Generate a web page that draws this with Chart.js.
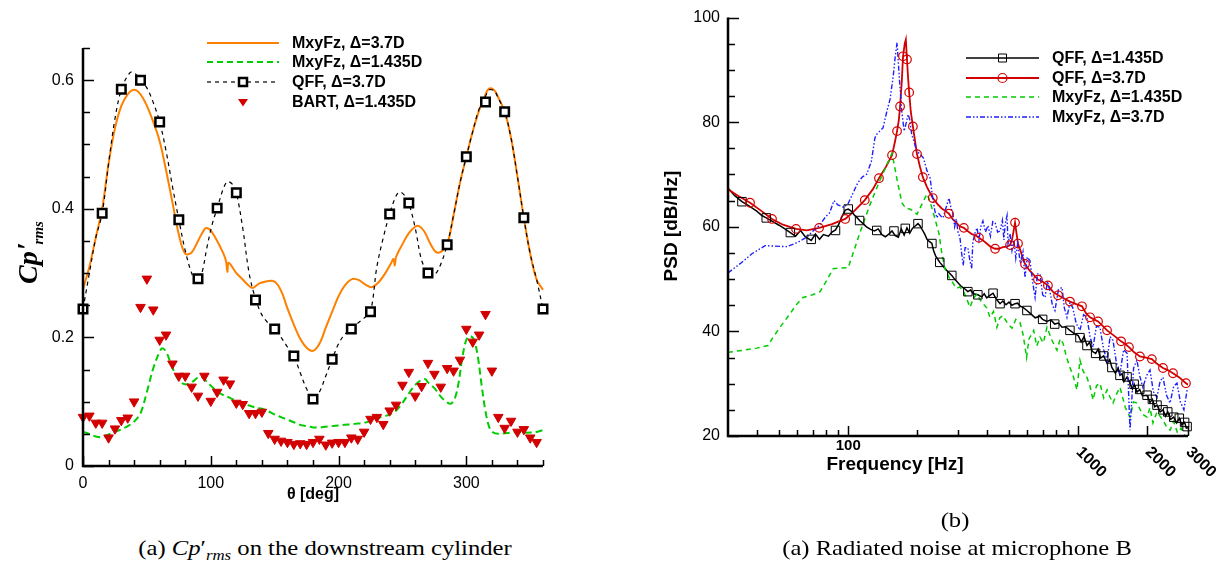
<!DOCTYPE html>
<html>
<head>
<meta charset="utf-8">
<script src="https://cdn.jsdelivr.net/npm/chart.js"></script>
<style>
  body { margin: 0; background: #fff; width: 1225px; height: 567px; overflow: hidden; position: relative; }
  #leftBox { position: absolute; left: 0; top: 0; width: 612px; height: 520px; }
  #rightBox { position: absolute; left: 612px; top: 0; width: 613px; height: 520px; }
  .cap { position: absolute; font-family: "Liberation Serif", "Times New Roman", serif; font-size: 22px;
         white-space: nowrap; color: #000; transform-origin: 50% 50%; }
</style>
</head>
<body>
<div id="leftBox"><canvas id="cpChart" width="612" height="520"></canvas></div>
<div id="rightBox"><canvas id="psdChart" width="613" height="520"></canvas></div>
<div class="cap" id="capA" style="left:325px; top:535px; transform: translateX(-50%) scaleX(1.12);">(a) <i>Cp</i>′<sub style="font-size:15px"><i>rms</i></sub> on the downstream cylinder</div>
<div class="cap" id="capB" style="left:955px; top:507px; transform: translateX(-50%) scaleX(1.12);">(b)</div>
<div class="cap" id="capC" style="left:957px; top:535px; transform: translateX(-50%) scaleX(1.12);">(a) Radiated noise at microphone B</div>
<script>
// ---------- left panel: Cp'rms vs theta ----------
var thetaTicks = [0, 100, 200, 300];
var thetaTickLabels = ['0', '100', '200', '300'];
var cpTicks = [0, 0.2, 0.4, 0.6];
var cpTickLabels = ['0', '0.2', '0.4', '0.6'];

var mxy37Theta = [0,5,10,15,20,25,30,35,40,45,50,55,60,65,70,75,80,85,90,95,97,100,105,110,112,113,114,120,125,130,133,138,143,148,152,156,160,165,170,175,180,185,190,195,200,205,211,216,221,226,231,236,241,243,244,245,250,255,260,263,267,272,276,280,285,290,295,300,305,310,315,318,322,325,330,335,340,345,350,355,360];
var mxy37Cp = [0.275,0.31,0.355,0.40,0.47,0.525,0.56,0.578,0.585,0.578,0.56,0.535,0.505,0.46,0.41,0.36,0.33,0.332,0.35,0.368,0.37,0.366,0.35,0.33,0.318,0.302,0.316,0.3,0.29,0.28,0.277,0.284,0.287,0.288,0.283,0.268,0.245,0.22,0.198,0.184,0.179,0.19,0.215,0.24,0.264,0.281,0.291,0.289,0.282,0.278,0.285,0.298,0.315,0.322,0.312,0.325,0.345,0.362,0.372,0.373,0.365,0.345,0.333,0.333,0.345,0.39,0.44,0.481,0.52,0.553,0.578,0.587,0.584,0.573,0.551,0.51,0.45,0.386,0.33,0.29,0.274];

var mxy1435Theta = [0,5,10,15,20,25,30,35,40,45,50,55,60,62,65,70,75,80,85,90,92,95,100,105,110,115,120,125,130,135,140,145,150,155,160,165,170,175,180,185,190,195,200,205,210,215,220,225,230,235,240,245,250,255,260,265,268,270,275,280,285,288,291,294,297,300,303,306,309,312,315,318,321,325,330,335,340,345,350,355,360];
var mxy1435Cp = [0.053,0.05,0.046,0.045,0.049,0.053,0.057,0.062,0.069,0.082,0.115,0.152,0.178,0.183,0.178,0.153,0.133,0.127,0.13,0.138,0.139,0.135,0.125,0.116,0.11,0.106,0.101,0.097,0.094,0.091,0.089,0.085,0.08,0.076,0.072,0.068,0.064,0.062,0.06,0.06,0.061,0.062,0.063,0.064,0.065,0.066,0.067,0.07,0.074,0.077,0.08,0.086,0.098,0.113,0.126,0.134,0.135,0.13,0.121,0.108,0.099,0.097,0.105,0.13,0.17,0.196,0.202,0.196,0.17,0.125,0.085,0.06,0.052,0.05,0.051,0.052,0.053,0.052,0.052,0.053,0.056];

var qffLineTheta = [0,5,10,15,20,25,30,35,38,42,45,50,55,60,65,70,75,80,85,89,93,97,101,105,110,113,117,120,125,130,135,140,145,150,155,160,165,170,175,180,185,190,195,200,205,210,215,220,225,230,235,240,245,248,252,255,260,265,270,273,278,285,290,295,300,305,310,315,318,322,325,330,335,340,345,350,355,360];
var qffLineCp = [0.244,0.30,0.355,0.393,0.47,0.54,0.586,0.607,0.613,0.608,0.600,0.588,0.565,0.535,0.49,0.435,0.383,0.335,0.3,0.286,0.3,0.34,0.375,0.401,0.432,0.442,0.438,0.425,0.37,0.30,0.26,0.235,0.222,0.213,0.2,0.185,0.171,0.145,0.12,0.104,0.115,0.14,0.166,0.19,0.205,0.213,0.222,0.23,0.24,0.31,0.355,0.392,0.42,0.426,0.42,0.409,0.37,0.32,0.300,0.295,0.305,0.344,0.39,0.44,0.481,0.52,0.555,0.575,0.585,0.583,0.572,0.551,0.51,0.45,0.386,0.33,0.29,0.244];

var qffTheta = [0,15,30,45,60,75,90,105,120,135,150,165,180,195,210,225,240,255,270,285,300,315,330,345,360];
var qffCp = [0.244,0.393,0.586,0.600,0.535,0.383,0.291,0.401,0.425,0.258,0.213,0.171,0.104,0.166,0.213,0.240,0.392,0.409,0.300,0.344,0.481,0.566,0.551,0.386,0.244];

var bartTheta = [0,5,10,15,20,25,30,35,40,45,50,55,60,65,70,75,80,85,90,95,100,105,110,115,120,125,130,135,140,145,150,155,160,165,170,175,180,185,190,195,200,205,210,215,220,225,230,235,240,245,250,255,260,265,270,275,280,285,290,295,300,305,310,315,320,325,330,335,340,345,350,355];
var bartCp = [0.076,0.078,0.067,0.067,0.044,0.058,0.071,0.075,0.1,0.247,0.291,0.243,0.196,0.204,0.159,0.14,0.14,0.123,0.109,0.14,0.101,0.115,0.134,0.128,0.098,0.096,0.082,0.082,0.084,0.051,0.042,0.039,0.037,0.034,0.035,0.034,0.037,0.042,0.033,0.036,0.037,0.037,0.044,0.042,0.053,0.073,0.076,0.065,0.086,0.095,0.126,0.146,0.109,0.124,0.16,0.143,0.123,0.152,0.148,0.165,0.213,0.193,0.204,0.236,0.148,0.076,0.059,0.07,0.053,0.057,0.044,0.037];

// ---------- right panel: PSD at microphone B ----------
var freqTicks = [100, 1000, 2000, 3000];
var freqTickLabels = ['100', '1000', '2000', '3000'];
var psdTicks = [20, 40, 60, 80, 100];
var psdTickLabels = ['20', '40', '60', '80', '100'];

var qff1435Freq = [30,32,34.5,37,40,42,44,47,50,53,56,59,62,65,69,72,75,78,82,85,88,91,94,97,100,103,106,109,112,116,120,125,130,135,140,145,150,155,160,165,170,175,180,185,190,195,201,205,210,215,220,225,231,235,240,245,250,260,270,282,290,300,310,320,331,340,350,366,380,390,400,413,426,440,457,470,485,500,515,531,545,560,575,598,620,650,680,700,730,760,790,820,850,880,920,960,1000,1030,1060,1091,1120,1150,1190,1220,1250,1290,1334,1370,1400,1450,1490,1518,1550,1580,1630,1679,1720,1750,1800,1850,1900,1991,2050,2100,2150,2200,2270,2335,2400,2450,2520,2600,2680,2750,2820,2900,2950,3000];
var qff1435Psd = [67.4,66,64.8,64,63,62.2,61.7,61,60.3,59.6,58.9,58.2,59.3,58.1,57.4,58.6,57.6,58.5,58.2,59,59.4,60.5,62,63.2,63.4,63,62.3,61.8,61.2,60.6,60,59.5,59.2,59.6,58.5,58.1,58.6,59.2,58.3,58,59.6,58.4,59.8,58.8,59.7,60.1,60.6,60.2,59.4,58.6,57.6,57.2,56.8,55.4,54.4,53.8,53.2,52.3,51.5,50.7,50,49.3,48.6,48.2,47.6,47.9,47.2,47,46.6,47.2,46.4,46.9,47.3,46.2,45.3,45.8,45.1,45.6,45,45.3,45.4,44.8,44.6,44,43.4,42.6,42.9,42.3,41.9,42.2,41.4,41.6,40.8,40.9,40.2,39.6,39.2,38.0,39.0,37.3,37.9,36.2,35.8,36.6,34.9,35.3,33.9,34.6,33.1,32.0,33.0,31.6,31.9,30.4,31.3,30.1,29.0,29.9,28.4,28.9,27.7,27.8,26.4,27.0,25.6,25.9,24.6,25.0,23.8,24.6,23.2,23.6,22.5,23.4,22.1,22.6,21.5,21.6];
var qff1435MarkFreq = [34.5,44,56,69,88,100,112,133,158,177,201,231,250,282,331,366,426,457,531,598,700,790,920,1017,1091,1190,1290,1400,1518,1630,1750,1850,1991,2100,2200,2335,2450,2600,2750,2900,2973];
var qff1435MarkPsd = [64.8,61.7,58.9,57.6,59.3,63.4,61.2,59.3,59.2,59.7,60.6,56.8,53.2,50.7,47.6,47,47.3,45.3,45.3,44,42.3,41.4,40.2,38.8,37.3,35.8,35.3,33.1,31.6,31.3,29.9,28.9,27.8,27,25.9,25,24.6,23.6,23.4,22.6,21.8];

var qff37Freq = [30,33,37.4,42,46.6,52,59.3,66,74.7,85,97,105,118,128,136,146,155,160,163,166,168,171,173,176,178,180,182,184,187,191,195,199,205,211,220,233,245,255,265,274,285,295,305,318,330,345,360,370,385,400,415,435,450,470,490,505,515,525,531,538,547,560,575,587,610,640,668,700,738,775,817,860,920,980,1038,1080,1125,1170,1219,1280,1334,1430,1535,1600,1661,1750,1854,1970,2089,2200,2335,2450,2582,2750,2939,3000];
var qff37Psd = [67.2,66,64.6,63,61.5,60.4,59.6,59.3,59.8,60.5,61.5,62.8,65.1,67.2,69.3,71.5,73.7,76.5,78.3,80.5,83,88,92.6,95,95.8,92,88.5,85.7,82,79.2,76.5,73.9,71.5,69.5,67.6,65.5,64.3,63.5,63,62.5,61.4,60.8,60.1,59.8,59.2,58.6,58.3,57.9,57.4,56.8,56.2,55.8,55.8,56.1,56.2,56.5,57.5,59.5,60.8,59,56.8,55.5,54,52.9,51.8,50.8,49.9,49.5,48.8,47.6,46.9,46.4,45.7,45.2,44.8,43.5,42.7,42.3,41.9,41,40.2,39.2,38.1,37.6,37,36,35.2,35,34.7,33.8,33,32.6,32,31.2,30.1,29.8];
var qff37MarkFreq = [37.4,46.6,59.3,74.7,97,118,136,155,163,168,173,180,184,191,199,211,233,274,318,370,435,505,531,547,587,668,738,817,920,1038,1125,1219,1334,1535,1661,1854,2089,2335,2582,2939];
var qff37MarkPsd = [64.6,61.5,59.6,59.8,61.5,65.1,69.3,73.7,78.3,83,92.6,92,85.7,79.2,73.9,69.5,65.5,62.5,59.8,57.9,55.8,56.5,60.8,56.8,52.9,49.9,48.8,46.9,45.7,44.8,42.7,41.9,40.2,38.1,37,35.2,34.7,33,32,30.1];

var mxyB1435Freq = [30,35,40,44.8,47,50.5,55,60,63.6,70,75.4,80,86,93,100,106,112,116,125,137,146,155,163,171,178,185,192,199,210,220,226,231,240,248,255,263,275,285,295,305,316,327,338,350,363,375,385,400,413,428,443,456,471,493,515,535,558,575,587,596,610,640,660,682,705,731,770,808,835,859,890,920,950,987,1017,1050,1091,1125,1159,1200,1242,1290,1334,1375,1416,1470,1518,1600,1679,1740,1799,1900,1991,2050,2113,2200,2335,2420,2506,2600,2700,2800,2900,3000];
var mxyB1435Psd = [36,36.4,36.8,37.3,38.8,40.8,43,45.3,46.5,47,47.6,49.5,52,52.1,52.2,55.5,58.7,60.6,64.5,68.8,71.5,74.1,69,64.6,63.5,63.4,63,62.4,64.5,66.3,65,63.6,61,58.7,55,52,50.2,49.3,48.2,48.5,47.8,46.3,44.6,46.3,47.2,46,45.3,44.5,42.7,43.8,40.8,42.6,43,41.5,40.6,42.3,41.7,39.5,37,35,38.5,40.2,37.2,38.9,37.8,40.8,38.2,36.4,38.6,37.7,35,33.1,31.5,28.8,34.5,32.4,31.2,29.5,26.9,29.6,30.1,27.3,28.8,27.4,26.3,28.1,29.3,25.5,23.6,26.5,26.3,24.2,23.6,25.4,22.5,24.6,23,21.8,21.1,22.8,20.6,21.5,20.2,19.5];

var mxyB37Freq = [30,34,38,43.5,48,54.2,60,66,70.3,75,80,83,86.7,90,95.8,100,105,110,115,120.5,126,130.6,133,141.6,147,152,157,160,163,167,171,175,179,182,185,189,193,198,205,212,220,227,232,238,243,248,253,258,266,274,280,285,290,295,300,306,311,316,322,331,338,344,348,355,363,370,377,385,395,405,415,425,435,446,457,468,475,481,490,495,505,515,525,535,545,560,575,587,600,617,633,649,665,682,700,717,735,752,772,792,820,850,870,893,920,945,980,1017,1055,1091,1125,1159,1200,1242,1290,1334,1375,1416,1465,1518,1575,1630,1679,1740,1799,1850,1910,1980,2051,2120,2199,2270,2335,2420,2506,2600,2687,2780,2880,2973];
var mxyB37Psd = [51.2,53,54.8,56.4,56.3,56.2,57,58,59.2,60.3,62,62.7,65,64.2,63.7,64.5,66.5,68.4,69.5,70.1,72.5,77,77.7,78.9,82,84.4,89,92.5,95.2,88,82,78.3,80,81.5,80.5,77.5,76.4,74.5,73.9,73.2,70.7,69.3,66,63,61.7,62.5,62,61.7,63.6,65.5,63.5,62.5,60,61.5,59,57.9,55,52.6,56,56,53.5,52,57,58.7,59.8,57.5,60,61.1,59,60.2,58.2,61,60.8,59,59.2,61.2,57.5,60.5,62.1,56.8,58.7,55.5,57.5,54,56.8,53,55.2,50.3,54.2,53.5,49.5,46.5,51,51,47,46.5,49.6,47.8,45,44,48,48.4,44.5,42.7,45.5,44.6,41.5,40.2,43.2,42.7,39,37,41,40.8,36.5,34.5,39,38.3,34,32,36.5,35.8,21.1,33,34.5,31.5,29.3,31.5,32.6,28.5,27.4,30.5,31.2,27.8,26.3,29.5,30.1,26.5,25,28.8];

function pairs(xs, ys) {
  var n = Math.min(xs.length, ys.length), out = [];
  for (var i = 0; i < n; i++) out.push({x: xs[i], y: ys[i]});
  return out;
}

var SANS = '"Liberation Sans", Arial, Helvetica, sans-serif';
var SERIF = '"Liberation Serif", "Times New Roman", serif';

var ORANGE = 'rgb(255,128,0)';
var GREEN = 'rgb(0,204,0)';
var RED = 'rgb(210,0,0)';
var BLUE = 'rgb(30,30,255)';

function drawLegendRow(ctx, x0, x1, y, line, marker, text, tx) {
  ctx.save();
  if (line) {
    ctx.strokeStyle = line.color; ctx.lineWidth = line.width;
    ctx.setLineDash(line.dash || []);
    ctx.beginPath(); ctx.moveTo(x0, y); ctx.lineTo(x1, y); ctx.stroke();
    ctx.setLineDash([]);
  }
  var mx = (x0 + x1) / 2;
  if (marker) {
    ctx.strokeStyle = marker.color; ctx.fillStyle = marker.fill; ctx.lineWidth = marker.width;
    ctx.beginPath();
    if (marker.type === 'rect') {
      ctx.rect(mx - marker.size, y - marker.size, marker.size * 2, marker.size * 2);
      if (marker.fill) ctx.fill();
      ctx.stroke();
    } else if (marker.type === 'circle') {
      ctx.arc(mx, y, marker.size, 0, Math.PI * 2);
      ctx.stroke();
    } else if (marker.type === 'tri') {
      var s = marker.size;
      ctx.moveTo(mx - s, y - s * 0.6); ctx.lineTo(mx + s, y - s * 0.6); ctx.lineTo(mx, y + s * 0.9);
      ctx.closePath(); ctx.fill();
    }
  }
  ctx.fillStyle = '#000';
  ctx.font = 'bold 16px ' + SANS;
  ctx.textAlign = 'left'; ctx.textBaseline = 'middle';
  ctx.fillText(text, tx, y + 1);
  ctx.restore();
}

var cpDecor = {
  id: 'cpDecor',
  afterDraw: function(chart) {
    var ctx = chart.ctx, a = chart.chartArea, xs = chart.scales.x, ys = chart.scales.y;
    ctx.save();
    ctx.strokeStyle = '#000';
    // inward ticks
    ctx.lineWidth = 1.5;
    for (var k = 0; k <= 13; k++) {
      var v = k * 0.05, py = Math.round(ys.getPixelForValue(v)) + 0.5;
      var len = (k % 4 === 0) ? 11 : 7;
      ctx.beginPath(); ctx.moveTo(a.left, py); ctx.lineTo(a.left + len, py); ctx.stroke();
    }
    for (var t = 0; t <= 360; t += 20) {
      var px = Math.round(xs.getPixelForValue(t)) + 0.5;
      var l2 = (t % 100 === 0) ? 10 : 6;
      ctx.beginPath(); ctx.moveTo(px, a.bottom); ctx.lineTo(px, a.bottom - l2); ctx.stroke();
    }
    // axis lines
    ctx.lineWidth = 2.5;
    ctx.beginPath();
    ctx.moveTo(a.left, a.top); ctx.lineTo(a.left, a.bottom); ctx.lineTo(a.right, a.bottom);
    ctx.stroke();
    // axis titles
    ctx.fillStyle = '#000';
    ctx.font = 'bold 16px ' + SANS;
    ctx.textAlign = 'center'; ctx.textBaseline = 'middle';
    ctx.fillText('θ [deg]', 313, 495);
    ctx.save();
    ctx.translate(37, 284);
    ctx.rotate(-Math.PI / 2);
    ctx.textAlign = 'left'; ctx.textBaseline = 'alphabetic';
    ctx.font = 'italic bold 28px ' + SERIF;
    ctx.fillText('Cp', 0, 0);
    var w = ctx.measureText('Cp').width;
    ctx.fillText('′', w + 1, -1);
    w += ctx.measureText('′').width;
    ctx.font = 'italic bold 15px ' + SERIF;
    ctx.fillText('rms', w - 1, 6);
    ctx.restore();
    ctx.restore();
    // legend
    drawLegendRow(ctx, 207, 279, 43, {color: ORANGE, width: 2}, null, 'MxyFz, Δ=3.7D', 292);
    drawLegendRow(ctx, 207, 279, 62, {color: GREEN, width: 2, dash: [6, 4]}, null, 'MxyFz, Δ=1.435D', 292);
    drawLegendRow(ctx, 207, 279, 82, {color: '#000', width: 1.2, dash: [4, 4]},
      {type: 'rect', size: 4, color: '#000', fill: '#fff', width: 2.5}, 'QFF, Δ=3.7D', 292);
    drawLegendRow(ctx, 207, 279, 102, null, {type: 'tri', size: 5, color: RED, fill: RED, width: 1}, 'BART, Δ=1.435D', 292);
  }
};

new Chart(document.getElementById('cpChart'), {
  type: 'line',
  data: {
    datasets: [
      { label: 'BART, Δ=1.435D', data: pairs(bartTheta, bartCp), showLine: false,
        pointStyle: 'triangle', rotation: 180, pointRadius: 5.5, backgroundColor: RED, borderColor: RED,
        borderWidth: 1, order: 0, clip: false },
      { label: 'QFF markers', data: pairs(qffTheta, qffCp), showLine: false,
        pointStyle: 'rect', pointRadius: 6, backgroundColor: '#fff', borderColor: '#000',
        borderWidth: 2.5, order: 1, clip: false },
      { label: 'QFF, Δ=3.7D', data: pairs(qffLineTheta, qffLineCp), borderColor: '#000', borderWidth: 1.2,
        borderDash: [4, 4], pointRadius: 0, tension: 0.35, order: 2, clip: false },
      { label: 'MxyFz, Δ=1.435D', data: pairs(mxy1435Theta, mxy1435Cp), borderColor: GREEN, borderWidth: 2,
        borderDash: [7, 4], pointRadius: 0, tension: 0.35, order: 3, clip: false },
      { label: 'MxyFz, Δ=3.7D', data: pairs(mxy37Theta, mxy37Cp), borderColor: ORANGE, borderWidth: 2,
        pointRadius: 0, tension: 0.35, order: 4, clip: false }
    ]
  },
  options: {
    animation: false,
    responsive: false,
    devicePixelRatio: 1,
    layout: { padding: { left: 0, top: 48, right: 69, bottom: 0 } },
    plugins: { legend: { display: false }, tooltip: { enabled: false } },
    scales: {
      x: {
        type: 'linear', min: 0, max: 360,
        grid: { display: false, drawTicks: false },
        border: { display: false },
        afterBuildTicks: function(s) { s.ticks = thetaTicks.map(function(v) { return {value: v}; }); },
        afterFit: function(s) { s.height = 54; },
        ticks: { autoSkip: false, maxRotation: 0, padding: 8, color: '#000',
                 font: { family: SANS, size: 16 },
                 callback: function(v, i) { return thetaTickLabels[i]; } }
      },
      y: {
        type: 'linear', min: 0, max: 0.65,
        grid: { display: false, drawTicks: false },
        border: { display: false },
        afterBuildTicks: function(s) { s.ticks = cpTicks.map(function(v) { return {value: v}; }); },
        afterFit: function(s) { s.width = 83; },
        ticks: { autoSkip: false, padding: 9, color: '#000',
                 font: { family: SANS, size: 16 },
                 callback: function(v, i) { return cpTickLabels[i]; } }
      }
    }
  },
  plugins: [cpDecor]
});

var psdDecor = {
  id: 'psdDecor',
  afterDraw: function(chart) {
    var ctx = chart.ctx, a = chart.chartArea, xs = chart.scales.x, ys = chart.scales.y;
    ctx.save();
    ctx.strokeStyle = '#000';
    ctx.lineWidth = 1.5;
    for (var v = 20; v <= 100; v += 5) {
      var py = Math.round(ys.getPixelForValue(v)) + 0.5;
      var len = (v % 20 === 0) ? 11 : 7;
      ctx.beginPath(); ctx.moveTo(a.left, py); ctx.lineTo(a.left + len, py); ctx.stroke();
    }
    [10, 100, 1000].forEach(function(d) {
      for (var m = 1; m <= 9; m++) {
        var f = m * d;
        if (f < 40 || f > 3000) continue;
        var px = Math.round(xs.getPixelForValue(f)) + 0.5;
        var l2 = (freqTicks.indexOf(f) >= 0) ? 10 : 6;
        ctx.beginPath(); ctx.moveTo(px, a.bottom); ctx.lineTo(px, a.bottom - l2); ctx.stroke();
      }
    });
    ctx.lineWidth = 2.5;
    ctx.beginPath();
    ctx.moveTo(a.left, a.top); ctx.lineTo(a.left, a.bottom); ctx.lineTo(a.right, a.bottom);
    ctx.stroke();
    // x tick labels: first upright, the rest slanted
    ctx.fillStyle = '#000';
    ctx.font = 'bold 15px ' + SANS;
    freqTicks.forEach(function(f, i) {
      var px = xs.getPixelForValue(f);
      if (i === 0) {
        ctx.textAlign = 'center'; ctx.textBaseline = 'middle';
        ctx.fillText(freqTickLabels[i], px, 446);
      } else {
        ctx.save();
        ctx.translate(px + 6, 444);
        ctx.rotate(Math.PI / 4);
        ctx.textAlign = 'left'; ctx.textBaseline = 'top';
        ctx.font = 'bold 16px ' + SANS;
        ctx.fillText(freqTickLabels[i], 0, 0);
        ctx.restore();
      }
    });
    // axis titles
    ctx.font = 'bold 19px ' + SANS;
    ctx.textAlign = 'center'; ctx.textBaseline = 'middle';
    ctx.fillText('Frequency [Hz]', 283, 465);
    ctx.save();
    ctx.translate(60, 226);
    ctx.rotate(-Math.PI / 2);
    ctx.fillText('PSD [dB/Hz]', 0, 0);
    ctx.restore();
    ctx.restore();
    // legend
    drawLegendRow(ctx, 354, 427, 58, {color: '#000', width: 1.5},
      {type: 'rect', size: 4, color: '#000', fill: null, width: 1}, 'QFF, Δ=1.435D', 440);
    drawLegendRow(ctx, 354, 427, 78, {color: RED, width: 1.8},
      {type: 'circle', size: 4.5, color: RED, width: 1.2}, 'QFF, Δ=3.7D', 440);
    drawLegendRow(ctx, 354, 427, 97, {color: GREEN, width: 1.5, dash: [5, 4]}, null, 'MxyFz, Δ=1.435D', 440);
    drawLegendRow(ctx, 354, 427, 117, {color: BLUE, width: 1.4, dash: [5, 2, 1.5, 2, 1.5, 2]}, null, 'MxyFz, Δ=3.7D', 440);
  }
};

new Chart(document.getElementById('psdChart'), {
  type: 'line',
  data: {
    datasets: [
      { label: 'QFF, Δ=3.7D markers', data: pairs(qff37MarkFreq, qff37MarkPsd), showLine: false,
        pointStyle: 'circle', pointRadius: 4.3, backgroundColor: 'rgba(0,0,0,0)', borderColor: RED,
        borderWidth: 1.2, order: 0, clip: false },
      { label: 'QFF, Δ=1.435D markers', data: pairs(qff1435MarkFreq, qff1435MarkPsd), showLine: false,
        pointStyle: 'rect', pointRadius: 6, backgroundColor: 'rgba(0,0,0,0)', borderColor: '#000',
        borderWidth: 1, order: 1, clip: false },
      { label: 'MxyFz, Δ=3.7D', data: pairs(mxyB37Freq, mxyB37Psd), borderColor: BLUE, borderWidth: 1.4,
        borderDash: [5, 2, 1.5, 2, 1.5, 2], pointRadius: 0, tension: 0, order: 2 },
      { label: 'MxyFz, Δ=1.435D', data: pairs(mxyB1435Freq, mxyB1435Psd), borderColor: GREEN, borderWidth: 1.5,
        borderDash: [5, 4], pointRadius: 0, tension: 0, order: 3 },
      { label: 'QFF, Δ=3.7D', data: pairs(qff37Freq, qff37Psd), borderColor: RED, borderWidth: 1.8,
        pointRadius: 0, tension: 0, order: 4 },
      { label: 'QFF, Δ=1.435D', data: pairs(qff1435Freq, qff1435Psd), borderColor: '#000', borderWidth: 1.5,
        pointRadius: 0, tension: 0, order: 5 }
    ]
  },
  options: {
    animation: false,
    responsive: false,
    devicePixelRatio: 1,
    layout: { padding: { left: 0, top: 16, right: 37, bottom: 0 } },
    plugins: { legend: { display: false }, tooltip: { enabled: false } },
    scales: {
      x: {
        type: 'logarithmic', min: 30, max: 3000,
        grid: { display: false, drawTicks: false },
        border: { display: false },
        afterFit: function(s) { s.height = 84; },
        ticks: { display: false }
      },
      y: {
        type: 'linear', min: 20, max: 100,
        grid: { display: false, drawTicks: false },
        border: { display: false },
        afterBuildTicks: function(s) { s.ticks = psdTicks.map(function(v) { return {value: v}; }); },
        afterFit: function(s) { s.width = 116; },
        ticks: { autoSkip: false, padding: 8, color: '#000',
                 font: { family: SANS, size: 16 },
                 callback: function(v, i) { return psdTickLabels[i]; } }
      }
    }
  },
  plugins: [psdDecor]
});
</script>
</body>
</html>
